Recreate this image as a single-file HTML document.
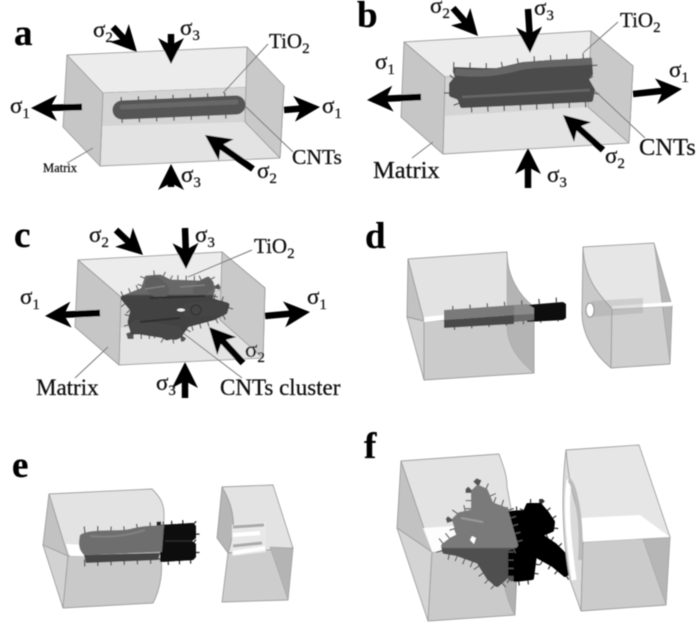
<!DOCTYPE html>
<html>
<head>
<meta charset="utf-8">
<style>
html,body{margin:0;padding:0;background:#fff;width:700px;height:624px;overflow:hidden}
svg{display:block}
text{font-family:"Liberation Serif",serif;fill:#111;stroke:#111;stroke-width:.25}
.L{font-weight:bold;font-size:37px;fill:#000;stroke:#000}
.s{font-size:23px}
.t{font-size:21px}
.e{stroke:#9c9c9c;stroke-width:.9;stroke-linejoin:round}
.ld{stroke:#777;stroke-width:1;fill:none}
.a{stroke:#000;stroke-width:6.5}
.tu{fill:none;stroke-linecap:round}
.sp{fill:none;stroke:#555;stroke-dasharray:1.3 16}
</style>
</head>
<body>
<svg width="700" height="624" viewBox="0 0 700 624" xmlns="http://www.w3.org/2000/svg">
<defs>
<filter id="b" x="-2%" y="-2%" width="104%" height="104%"><feGaussianBlur stdDeviation="0.6"/></filter>
<polygon id="h" points="0,0 -26,-13 -19,0 -26,13" fill="#000"/>
<linearGradient id="fg" gradientUnits="userSpaceOnUse" x1="0" y1="540" x2="0" y2="556"><stop offset="0.45" stop-color="#7a7a7a"/><stop offset="0.55" stop-color="#505050"/></linearGradient>
<linearGradient id="cg" gradientUnits="userSpaceOnUse" x1="0" y1="290" x2="0" y2="300"><stop offset="0.4" stop-color="#686868"/><stop offset="0.6" stop-color="#434343"/></linearGradient>
</defs>
<rect width="700" height="624" fill="#fff"/>
<g filter="url(#b)">

<!-- PANEL A -->
<g class="e">
<polygon points="67,55 247,47 284,86 103,93" fill="#ececec"/>
<polygon points="103,93 284,86 280,158 100,166" fill="#e3e3e3"/>
<polygon points="103,93 284,86 245,122 102,126" fill="#d4d4d4" stroke="none"/>
<polygon points="67,55 103,93 100,166 63,127" fill="#c6c6c6"/>
<polygon points="247,47 284,86 280,158 245,122" fill="#c9c9c9"/>
</g>
<path class="sp" stroke-width="26" d="M121,110 L238,105"/>
<path class="tu" stroke="#555" stroke-width="19" d="M122,110 L236,105"/>
<path class="tu" stroke="#686868" stroke-width="5" d="M122,107 L236,102"/>
<path class="ld" d="M223,93 L268,44"/>
<path class="ld" stroke="#555" d="M245,106 L293,152"/>
<path class="ld" d="M67,163 L93,148"/>
<line class="a" x1="82" y1="107" x2="44" y2="108"/><use href="#h" transform="translate(31,108) rotate(180)"/>
<line class="a" x1="284" y1="110" x2="308" y2="108"/><use href="#h" transform="translate(320,107) rotate(-4)"/>
<line class="a" x1="113" y1="27" x2="128" y2="43"/><use href="#h" transform="translate(137,52) rotate(47)"/>
<line class="a" x1="171" y1="34" x2="171" y2="52"/><use href="#h" transform="translate(171,64) rotate(90)"/>
<line class="a" x1="253" y1="169" x2="216" y2="143"/><use href="#h" transform="translate(205,135) rotate(215)"/>
<line class="a" x1="171" y1="187" x2="171" y2="175"/><use href="#h" transform="translate(171,164) rotate(-90)"/>
<text class="L" x="14" y="45">a</text>
<text class="s" x="93" y="37">σ<tspan dy="5" font-size="15">2</tspan></text>
<text class="s" x="180" y="35">σ<tspan dy="5" font-size="15">3</tspan></text>
<text class="s" x="10" y="113">σ<tspan dy="5" font-size="15">1</tspan></text>
<text class="s" x="322" y="113">σ<tspan dy="5" font-size="15">1</tspan></text>
<text class="s" x="257" y="178">σ<tspan dy="5" font-size="15">2</tspan></text>
<text class="s" x="181" y="182">σ<tspan dy="5" font-size="15">3</tspan></text>
<text class="t" x="269" y="48">TiO<tspan dy="5" font-size="15">2</tspan></text>
<text x="292" y="164" font-size="21.5">CNTs</text>
<text x="43" y="172" font-size="12.5">Matrix</text>

<!-- PANEL B -->
<g class="e">
<polygon points="404,42 591,31 633,66 445,77" fill="#ececec"/>
<polygon points="445,77 633,66 629,143 443,154" fill="#e3e3e3"/>
<polygon points="445,77 633,66 588,107 444,116" fill="#d4d4d4" stroke="none"/>
<polygon points="404,42 445,77 443,154 401,117" fill="#c6c6c6"/>
<polygon points="591,31 633,66 629,143 588,107" fill="#c9c9c9"/>
</g>
<polygon points="453,67 483,68 497,68 523,62 550,60 592,58 593,75 588,78 595,90 593,102 460,108 457,100 449,97 449,83 455,77 453,72" fill="none" stroke="#555" stroke-width="10" stroke-dasharray="1.3 15"/>
<polygon points="455,69 483,70 497,70 523,64 550,62 590,60 591,74 586,78 593,90 591,100 462,106 459,98 451,95 451,84 457,77 455,72" fill="#4c4c4c" stroke="#4c4c4c" stroke-width="4" stroke-linejoin="round"/>
<path d="M455,72 C485,75 500,72 523,66 C545,63 570,63 592,61" stroke="#666" stroke-width="7" fill="none"/>
<path d="M462,97 L590,90" stroke="#666" stroke-width="2.5" fill="none"/>
<path class="ld" d="M583,53 L618,22"/>
<path class="ld" stroke="#555" d="M595,91 L645,138"/>
<path class="ld" d="M412,158 L433,142"/>
<line class="a" x1="421" y1="97" x2="380" y2="99"/><use href="#h" transform="translate(367,100) rotate(177)"/>
<line class="a" x1="633" y1="94" x2="670" y2="90"/><use href="#h" transform="translate(682,89) rotate(-5)"/>
<line class="a" x1="453" y1="8" x2="469" y2="26"/><use href="#h" transform="translate(478,36) rotate(48)"/>
<line class="a" x1="528" y1="9" x2="530" y2="40"/><use href="#h" transform="translate(530,53) rotate(88)"/>
<line class="a" x1="603" y1="150" x2="574" y2="124"/><use href="#h" transform="translate(563,115) rotate(221)"/>
<line class="a" x1="528" y1="188" x2="528" y2="160"/><use href="#h" transform="translate(528,148) rotate(-90)"/>
<text class="L" x="357" y="27">b</text>
<text class="s" x="430" y="13">σ<tspan dy="5" font-size="15">2</tspan></text>
<text class="s" x="534" y="15">σ<tspan dy="5" font-size="15">3</tspan></text>
<text class="s" x="375" y="69">σ<tspan dy="5" font-size="15">1</tspan></text>
<text class="s" x="669" y="77">σ<tspan dy="5" font-size="15">1</tspan></text>
<text class="s" x="605" y="163">σ<tspan dy="5" font-size="15">2</tspan></text>
<text class="s" x="547" y="182">σ<tspan dy="5" font-size="15">3</tspan></text>
<text class="t" x="620" y="27">TiO<tspan dy="5" font-size="15">2</tspan></text>
<text x="639" y="155" font-size="24.5">CNTs</text>
<text x="373" y="178" font-size="24.5">Matrix</text>

<!-- PANEL C -->
<g class="e">
<polygon points="78,260 222,252 265,288 121,297" fill="#ececec"/>
<polygon points="121,297 265,288 263,358 119,365" fill="#e3e3e3"/>
<polygon points="121,297 265,288 220,320 120,328" fill="#d4d4d4" stroke="none"/>
<polygon points="78,260 121,297 119,365 75,327" fill="#c6c6c6"/>
<polygon points="222,252 265,288 263,358 220,320" fill="#c9c9c9"/>
</g>
<polygon points="123,298 143,290 147,278 160,277 170,282 200,283 208,279 213,288 210,300 227,305 225,312 213,318 187,325 180,335 167,338 157,332 133,332 130,322 133,310" fill="none" stroke="#555" stroke-width="14" stroke-dasharray="1.2 7"/>
<polygon points="123,298 143,290 147,278 160,277 170,282 200,283 208,279 213,288 210,300 227,305 225,312 213,318 187,325 180,335 167,338 157,332 133,332 130,322 133,310" fill="url(#cg)" stroke="url(#cg)" stroke-width="5" stroke-linejoin="round"/>
<path class="tu" stroke="#5e5e5e" stroke-width="18" d="M154,285 L160,290"/>
<path class="tu" stroke="#5e5e5e" stroke-width="14" d="M207,285 L200,290"/>
<path class="tu" stroke="#454545" stroke-width="15" d="M220,308 L190,310"/>
<path class="tu" stroke="#474747" stroke-width="14" d="M137,327 L175,333"/>
<path d="M140,322 L180,318 M150,298 L205,296" stroke="#2f2f2f" stroke-width="2" fill="none"/>
<path d="M145,289 L165,286 M180,287 L205,285" stroke="#808080" stroke-width="1.5" fill="none"/>
<circle cx="196" cy="310" r="5" fill="none" stroke="#2f2f2f"/>
<ellipse cx="181" cy="310" rx="4" ry="1.5" fill="#eee"/>
<path class="ld" d="M188,277 L252,250"/>
<path class="ld" stroke="#555" d="M183,333 L242,378"/>
<path class="ld" d="M75,378 L108,347"/>
<line class="a" x1="100" y1="313" x2="58" y2="315"/><use href="#h" transform="translate(45,316) rotate(177)"/>
<line class="a" x1="265" y1="316" x2="298" y2="313"/><use href="#h" transform="translate(310,312) rotate(-5)"/>
<line class="a" x1="116" y1="230" x2="134" y2="247"/><use href="#h" transform="translate(143,255) rotate(43)"/>
<line class="a" x1="185" y1="228" x2="186" y2="256"/><use href="#h" transform="translate(186,269) rotate(89)"/>
<line class="a" x1="243" y1="363" x2="219" y2="337"/><use href="#h" transform="translate(209,327) rotate(227)"/>
<line class="a" x1="185" y1="398" x2="185" y2="374"/><use href="#h" transform="translate(185,362) rotate(-90)"/>
<text class="L" x="14" y="247">c</text>
<text class="s" x="89" y="242">σ<tspan dy="5" font-size="15">2</tspan></text>
<text class="s" x="195" y="242">σ<tspan dy="5" font-size="15">3</tspan></text>
<text class="s" x="20" y="304">σ<tspan dy="5" font-size="15">1</tspan></text>
<text class="s" x="307" y="304">σ<tspan dy="5" font-size="15">1</tspan></text>
<text class="s" x="245" y="357">σ<tspan dy="5" font-size="15">2</tspan></text>
<text class="s" x="156" y="390">σ<tspan dy="5" font-size="15">3</tspan></text>
<text class="t" x="254" y="253">TiO<tspan dy="5" font-size="15">2</tspan></text>
<text x="220" y="395" font-size="23">CNTs cluster</text>
<text x="36" y="395" font-size="23">Matrix</text>

<!-- PANEL D -->
<g class="e">
<path d="M408,259 L507,252 C507,275 518,295 534,307 L534,317 L424,321 Z" fill="#e3e3e3"/>
<polygon points="408,259 424,321 407,317" fill="#c2c2c2"/>
<polygon points="407,317 424,321 424,380" fill="#d2d2d2"/>
<polygon points="424,321 534,317 534,373 424,380" fill="#cbcbcb"/>
<path d="M507,252 C507,275 518,295 534,307 L534,373 C518,360 507,345 507,325 Z" fill="#b4b4b4" stroke-width=".5"/>
</g>
<polygon points="424,317 444,315 444,320 424,322" fill="#fff"/>
<path class="sp" stroke="#444" stroke-width="24" d="M453,318 L563,309"/>
<polygon points="527,305 563,302 566,304 566,318 563,320 527,322" fill="#0a0a0a"/>
<polygon points="444,310 514,305 514,315 444,320" fill="#7a7a7a"/>
<polygon points="444,320 514,315 514,324 444,328" fill="#484848"/>
<polygon points="514,305 527,304 534,308 534,320 514,322" fill="#8a8a8a"/>
<polygon points="514,315 534,314 534,320 514,322" fill="#6c6c6c"/>
<g class="e">
<path d="M583,247 L654,243 L672,306 L612,309 C600,295 584,280 583,247 Z" fill="#e6e6e6"/>
<path d="M583,247 C584,280 600,295 612,309 L611,368 C595,355 582,335 582,313 Z" fill="#c9c9c9"/>
<polygon points="612,309 672,306 670,364 611,368" fill="#cfcfcf"/>
<polygon points="654,243 672,306 670,364" fill="#b6b6b6" stroke-width=".5"/>
</g>
<polygon points="612,306 672,302 672,306 612,309" fill="#fff"/>
<polygon points="592,301 643,298 643,313 592,317" fill="#999" opacity=".3"/>
<ellipse cx="590" cy="310" rx="4" ry="7" fill="#fff" stroke="#888"/>
<text class="L" x="365" y="248">d</text>

<!-- PANEL E -->
<g class="e">
<path d="M49,494 L152,489 C160,497 164,503 164,515 L163,555 L68,556 Z" fill="#e3e3e3"/>
<polygon points="49,494 68,556 43,545" fill="#c2c2c2"/>
<polygon points="43,545 68,556 63,608" fill="#d2d2d2"/>
<path d="M68,556 L160,553 C164,570 160,590 153,603 L63,608 Z" fill="#c9c9c9"/>
</g>
<polygon points="66,544 84,545 84,556 70,556" fill="#fff"/>
<polygon points="160,525 193,523 196,526 196,538 192,541 196,544 196,557 193,560 160,562" fill="#0a0a0a" stroke="#222" stroke-width="7" stroke-dasharray="1.2 10"/>
<polygon points="160,525 193,523 196,526 196,538 192,541 196,544 196,557 193,560 160,562" fill="#0a0a0a"/>
<path d="M165,541 L192,541" stroke="#2c2c2c" stroke-width="1.5"/>
<path fill="none" stroke="#444" stroke-width="7" stroke-dasharray="1.2 12" d="M84,530 C100,528 115,532 130,529 C145,525 155,526 164,525 M84,563 L160,560"/>
<path fill="#6e6e6e" d="M80,535 C90,528 115,532 130,529 C145,525 155,526 164,525 L162,552 L84,555 C79,550 78,545 80,535 Z"/>
<path fill="#444" d="M84,555 L160,553 L158,560 L86,563 Z"/>
<path d="M90,536 C110,538 125,536 145,530" stroke="#808080" stroke-width="2" fill="none"/>
<g class="e">
<path d="M222,487 L273,485 L293,548 L228,553 C232,540 236,525 222,487 Z" fill="#e3e3e3"/>
<path d="M222,487 C236,510 236,530 228,553 L217,538 Z" fill="#b6b6b6"/>
<polygon points="228,553 293,548 288,600 222,602" fill="#cdcdcd"/>
<polygon points="270,547 293,548 288,600" fill="#b4b4b4" stroke-width=".5"/>
</g>
<polygon points="232,525 266,522 266,552 232,556" fill="#e8e8e8"/>
<path d="M233,527 L264,525 M233,546 L262,543" stroke="#aaa" stroke-width="3" fill="none"/>
<path d="M233,535 L260,533 M233,553 L265,548" stroke="#fff" stroke-width="4" fill="none"/>
<text class="L" x="12" y="477">e</text>

<!-- PANEL F -->
<g class="e">
<path d="M401,461 L499,454 C503,465 507,475 507,487 L518,547 L432,552 Z" fill="#e3e3e3"/>
<polygon points="401,461 432,552 397,528" fill="#c2c2c2"/>
<polygon points="397,528 432,552 428,621" fill="#d4d4d4"/>
<path d="M432,552 L518,547 L515,615 L428,621 Z" fill="#cacaca"/>
<path d="M503,580 C506,595 510,608 515,615 L516,580 Z" fill="#b0b0b0" stroke-width=".5"/>
</g>
<polygon points="423,528 470,525 490,550 432,552" fill="#fff" opacity=".9"/>
<polygon points="507,513 525,512 528,505 540,505 547,513 553,522 552,530 540,535 555,545 570,560 573,570 565,575 553,565 535,555 532,578 515,580 505,575" fill="none" stroke="#333" stroke-width="12" stroke-dasharray="1.2 8"/>
<polygon points="507,513 525,512 528,505 540,505 547,513 553,522 552,530 540,535 555,545 570,560 573,570 565,575 553,565 535,555 532,578 515,580 505,575" fill="#050505" stroke="#050505" stroke-width="4" stroke-linejoin="round"/>
<polygon points="472,492 478,486 487,490 493,503 507,508 517,545 507,550 507,577 497,586 487,577 477,563 457,555 443,552 441,545 450,538 458,535 453,520 458,513 472,510" fill="none" stroke="#555" stroke-width="13" stroke-dasharray="1.2 7"/>
<polygon points="474,492 478,488 485,491 491,505 505,510 515,545 505,549 505,577 497,584 489,577 479,561 457,553 445,551 444,546 452,540 460,536 455,520 460,515 474,512" fill="url(#fg)" stroke="url(#fg)" stroke-width="6" stroke-linejoin="round"/>
<polygon points="472,536 476,538 474,544 470,540" fill="#fff"/>
<path d="M461,518 L483,522" stroke="#999" stroke-width="2"/>
<g class="e">
<path d="M566,450 L639,445 L670,537 L583,542 C582,520 570,500 566,450 Z" fill="#e6e6e6"/>
<path d="M566,450 C560,500 564,550 570,580 L581,611 L583,542 C582,515 570,500 566,450 Z" fill="#dadada"/>
<polygon points="583,542 670,537 666,605 581,611" fill="#cbcbcb"/>
<polygon points="643,539 670,537 666,605" fill="#b6b6b6" stroke-width=".5"/>
</g>
<polygon points="580,518 640,515 670,537 583,542" fill="#fff"/>
<path d="M569,480 C565,510 570,550 574,580" stroke="#fff" stroke-width="5" fill="none"/>
<path d="M569,480 C575,485 583,520 580,560" stroke="#bbb" stroke-width="4" fill="none"/>
<text class="L" x="364" y="458">f</text>
</g>
</svg>
</body>
</html>
